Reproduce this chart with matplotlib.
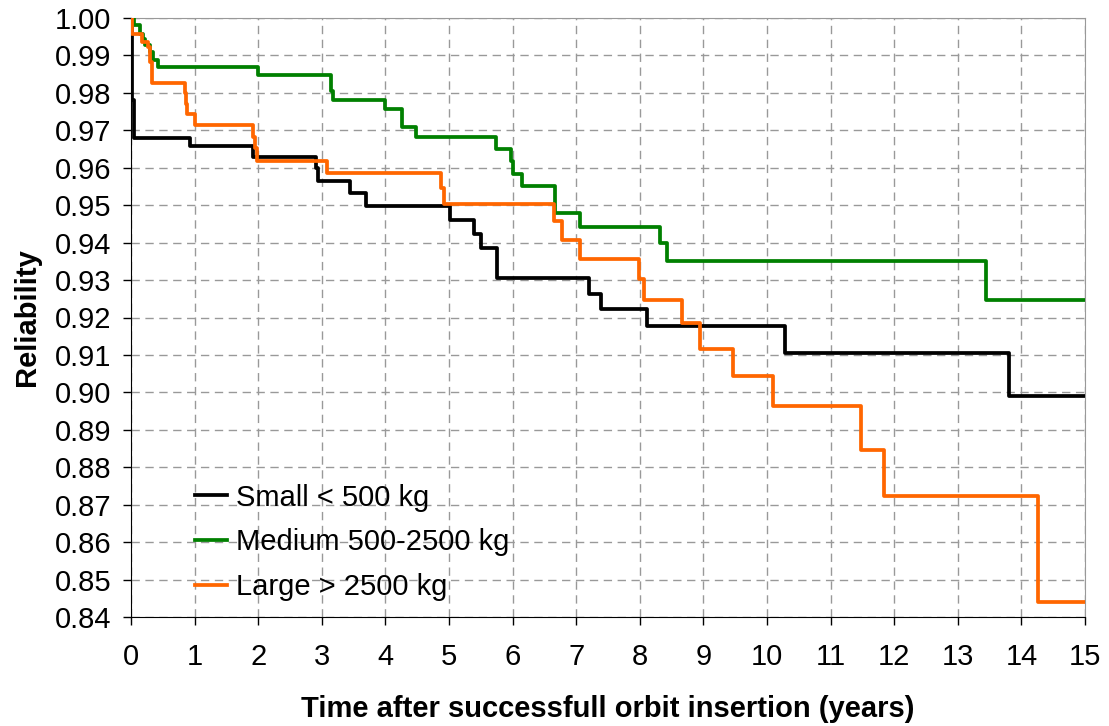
import numpy as np
import matplotlib.pyplot as plt

plt.rcParams['font.family'] = ['Liberation Sans', 'DejaVu Sans']

# Kaplan-Meier style reliability steps
small_t = [0, 0.02, 0.05, 0.93, 1.92, 2.91, 2.94, 3.44, 3.70, 5.02, 5.39, 5.50,
           5.75, 7.20, 7.39, 8.12, 10.29, 13.81, 15]
small_r = [1.0, 0.978, 0.968, 0.9657, 0.9628, 0.960, 0.9565, 0.9532, 0.9499,
           0.9461, 0.9423, 0.9386, 0.9306, 0.9263, 0.9223, 0.9177, 0.9106,
           0.899, 0.899]

medium_t = [0, 0.04, 0.14, 0.19, 0.22, 0.30, 0.35, 0.43, 1.99, 3.14, 3.18, 3.99,
            4.26, 4.48, 5.74, 5.98, 6.01, 6.14, 6.67, 7.06, 8.32, 8.42, 13.44, 15]
medium_r = [1.0, 0.998, 0.9958, 0.9945, 0.9927, 0.991, 0.9889, 0.9869, 0.9848,
            0.9804, 0.9781, 0.9757, 0.971, 0.9683, 0.965, 0.9619, 0.9584, 0.955,
            0.9479, 0.9442, 0.940, 0.9352, 0.9246, 0.9246]

large_t = [0, 0.01, 0.17, 0.27, 0.30, 0.33, 0.85, 0.87, 0.88, 1.01, 1.92, 1.95,
           1.98, 3.08, 4.87, 4.92, 6.65, 6.77, 7.06, 7.99, 8.07, 8.66, 8.95, 9.46,
           10.10, 11.48, 11.84, 14.26, 15]
large_r = [1.0, 0.9958, 0.9936, 0.9923, 0.9883, 0.9827, 0.980, 0.977, 0.9744,
           0.9715, 0.9683, 0.9652, 0.9619, 0.9586, 0.9546, 0.9504, 0.9457, 0.9406,
           0.9357, 0.9303, 0.9246, 0.9184, 0.9117, 0.9045, 0.8963, 0.8846, 0.8724,
           0.8441, 0.8441]

labels = ["Small < 500 kg", "Medium 500-2500 kg", "Large > 2500 kg"]
colors = ["#000000", "#008000", "#FF6600"]

fig = plt.figure(figsize=(11.09, 7.26), dpi=100)
ax = fig.add_axes([131 / 1109, 109 / 726, (1085 - 131) / 1109, (617 - 18) / 726])

for t, r, lab, c in zip([small_t, medium_t, large_t], [small_r, medium_r, large_r],
                        labels, colors):
    ax.step(t, r, where='post', color=c, lw=2.7, label=lab, zorder=3)

ax.set_xlim(0, 15)
ax.set_ylim(0.84, 1.0)
ax.set_xticks(np.arange(0, 16, 1))
ax.set_yticks(np.arange(0.84, 1.0001, 0.01))
ax.yaxis.set_major_formatter(plt.FormatStrFormatter('%.2f'))
ax.tick_params(direction='out', length=6, width=1, labelsize=21, pad=8)
ax.tick_params(axis='x', pad=13)

ax.grid(True, color='#999999', ls=(0, (6, 4)), lw=1)
for s in ['top', 'right']:
    ax.spines[s].set_color('#999999')
for s in ['left', 'bottom']:
    ax.spines[s].set_color('#000000')

ax.set_xlabel("Time after successfull orbit insertion (years)", fontsize=21,
              fontweight='bold', labelpad=17)
ax.set_ylabel("Reliability", fontsize=21, fontweight='bold', labelpad=10)

ax.legend(loc='lower left', bbox_to_anchor=(0.040, -0.017), frameon=False,
          fontsize=21, handlelength=1.1, handletextpad=0.3, labelspacing=0.57)

fig.savefig("out.png", dpi=100)
